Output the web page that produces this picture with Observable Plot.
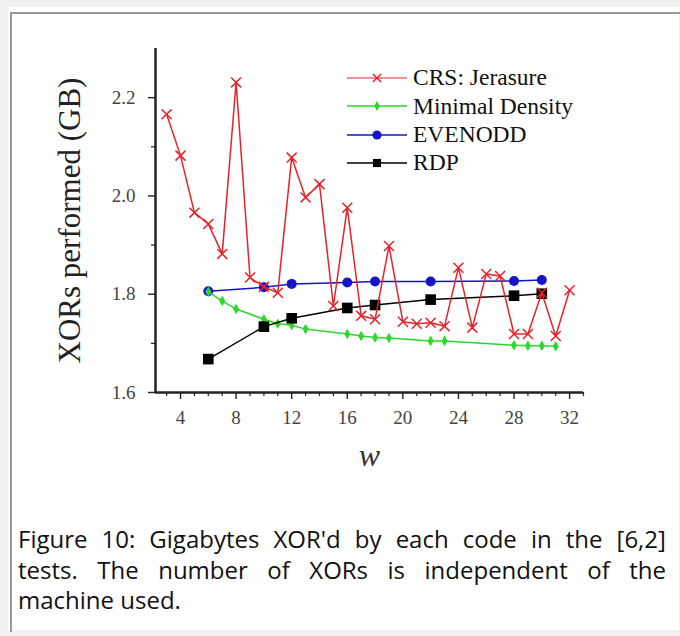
<!DOCTYPE html>
<html><head><meta charset="utf-8">
<script src="https://cdn.jsdelivr.net/npm/d3@7"></script>
<script src="https://cdn.jsdelivr.net/npm/@observablehq/plot@0.6"></script>
<style>
html,body{margin:0;padding:0;background:#f0f0f0;width:680px;height:636px;overflow:hidden;}
#frame{position:absolute;left:8px;top:7px;width:671px;height:623px;background:#fff;}
#border{position:absolute;left:10px;top:12px;width:670px;height:618px;border-left:2px solid #9a9a9a;border-top:2px solid #9a9a9a;}
#chart{position:absolute;left:0;top:0;}
#legend{position:absolute;left:347px;top:64px;font-family:"Liberation Serif",serif;font-size:23.5px;color:#111;}
#legend .row{display:flex;align-items:center;height:28.3px;}
#legend .row span{margin-left:6px;line-height:1;}
#caption{position:absolute;left:18px;width:648px;top:524px;font-family:"Open Sans",sans-serif;font-size:24px;line-height:30.5px;color:#111;}
#caption .line{display:flex;justify-content:space-between;white-space:nowrap;}
#caption .last{display:block;}
</style>
</head><body>
<div id="frame"></div>
<div id="border"></div>
<div id="chart"></div>
<div id="legend"></div>
<div id="caption"></div>
<script>
// ---- data ----
const seriesNames = ["CRS: Jerasure", "Minimal Density", "EVENODD", "RDP"];
const seriesColors = ["#e5232a", "#2bd82b", "#1414c8", "#000000"];
const seriesSymbols = ["times", "diamond", "circle", "square"];

const crsW   = [3,4,5,6,7,8,9,10,11,12,13,14,15,16,17,18,19,20,21,22,23,24,25,26,27,28,29,30,31,32];
const crsGB  = [2.166,2.082,1.966,1.943,1.882,2.231,1.834,1.815,1.803,2.078,1.997,2.024,1.776,1.976,1.756,1.749,1.898,1.744,1.740,1.742,1.735,1.854,1.732,1.841,1.837,1.719,1.719,1.803,1.715,1.808];

const mdW    = [6,7,8,10,11,12,13,16,17,18,19,22,23,28,29,30,31];
const mdGB   = [1.805,1.786,1.770,1.749,1.740,1.737,1.729,1.719,1.715,1.712,1.711,1.705,1.705,1.696,1.695,1.695,1.694];

const eoW    = [6,10,12,16,18,22,28,30];
const eoGB   = [1.806,1.814,1.821,1.824,1.826,1.826,1.827,1.829];

const rdpW   = [6,10,12,16,18,22,28,30];
const rdpGB  = [1.668,1.734,1.751,1.772,1.778,1.789,1.797,1.801];

const xDomain = [2.2, 33];
const yDomain = [1.6, 2.3];
const xTicks = [4,8,12,16,20,24,28,32];
const xMinorTicks = [3,5,6,7,9,10,11,13,14,15,17,18,19,21,22,23,25,26,27,29,30,31,33];
const yTicks = [1.6,1.8,2.0,2.2];
const yMinorTicks = [1.7,1.9,2.1];
const xLabel = "w";
const yLabel = "XORs performed (GB)";
const captionLines = [
  "Figure 10: Gigabytes XOR'd by each code in the [6,2]",
  "tests. The number of XORs is independent of the",
  "machine used."
];

// ---- build ----
const toRows = (ws, vs) => ws.map((w, i) => ({w, v: vs[i]}));
const crs = toRows(crsW, crsGB), md = toRows(mdW, mdGB), eo = toRows(eoW, eoGB), rdp = toRows(rdpW, rdpGB);
const serif = "'Liberation Serif', serif";
const axisColor = "#222";

const plot = Plot.plot({
  width: 680, height: 480,
  marginLeft: 155, marginRight: 97, marginTop: 48, marginBottom: 88,
  style: {background: "transparent", fontFamily: serif},
  x: {domain: xDomain, label: null},
  y: {domain: yDomain, label: null},
  marks: [
    Plot.axisX({ticks: xMinorTicks, tickSize: 4, text: null, stroke: axisColor, strokeWidth: 1.2, label: null}),
    Plot.axisX({ticks: xTicks, tickSize: 7, tickPadding: 11, fontSize: 19, tickFormat: d3.format("d"), stroke: axisColor, strokeWidth: 1.4, label: null}),
    Plot.axisY({ticks: yMinorTicks, tickSize: 4, text: null, stroke: axisColor, strokeWidth: 1.2, label: null}),
    Plot.axisY({ticks: yTicks, tickSize: 7, tickPadding: 13, fontSize: 19, tickFormat: d3.format(".1f"), stroke: axisColor, strokeWidth: 1.4, label: null}),
    Plot.ruleY([yDomain[0]], {stroke: axisColor, strokeWidth: 2.5}),
    Plot.ruleX([xDomain[0]], {stroke: axisColor, strokeWidth: 2.5}),
    Plot.text([yLabel], {frameAnchor: "left", textAnchor: "middle", rotate: -90, dx: -85, fontSize: 31, fill: "#222"}),
    Plot.text([xLabel], {frameAnchor: "bottom", textAnchor: "middle", dy: 73, fontSize: 32, fontStyle: "italic", fill: "#333"}),
    Plot.line(eo, {x: "w", y: "v", stroke: seriesColors[2], strokeWidth: 1.5}),
    Plot.dot(eo, {x: "w", y: "v", symbol: seriesSymbols[2], r: 5, fill: seriesColors[2]}),
    Plot.line(md, {x: "w", y: "v", stroke: seriesColors[1], strokeWidth: 1.5}),
    Plot.dot(md, {x: "w", y: "v", symbol: seriesSymbols[1], r: 3.2, fill: seriesColors[1]}),
    Plot.line(rdp, {x: "w", y: "v", stroke: seriesColors[3], strokeWidth: 1.5}),
    Plot.dot(rdp, {x: "w", y: "v", symbol: seriesSymbols[3], r: 6, fill: seriesColors[3]}),
    Plot.line(crs, {x: "w", y: "v", stroke: seriesColors[0], strokeWidth: 1.5}),
    Plot.dot(crs, {x: "w", y: "v", symbol: seriesSymbols[0], r: 4.6, stroke: seriesColors[0], strokeWidth: 1.5})
  ]
});
document.getElementById("chart").appendChild(plot);
// force serif fonts on every text; tick labels at 19px
plot.querySelectorAll("text").forEach(t => {
  t.style.setProperty("font-family", serif, "important");
  const s = t.textContent;
  if (s !== xLabel && s !== yLabel) {
    t.style.setProperty("font-size", "19px", "important");
    t.style.setProperty("fill", "#444");
  }
});

// ---- legend ----
const symbolMap = {times: d3.symbolTimes, diamond: d3.symbolDiamond, circle: d3.symbolCircle, square: d3.symbolSquare};
const legendR = [3.8, 3, 4.6, 4.6];
const legend = d3.select("#legend");
seriesNames.forEach((name, i) => {
  const row = legend.append("div").attr("class", "row");
  const svg = row.append("svg").attr("width", 60).attr("height", 28);
  svg.append("line").attr("x1", 0).attr("x2", 60).attr("y1", 14).attr("y2", 14)
    .attr("stroke", seriesColors[i]).attr("stroke-width", i === 0 ? 1.2 : 1.6);
  const sym = d3.symbol(symbolMap[seriesSymbols[i]], legendR[i] * legendR[i] * Math.PI)();
  const p = svg.append("path").attr("d", sym).attr("transform", "translate(30,14)");
  if (seriesSymbols[i] === "times") p.attr("fill", "none").attr("stroke", seriesColors[i]).attr("stroke-width", 1.5);
  else p.attr("fill", seriesColors[i]);
  row.append("span").text(name);
});

// ---- caption ----
const cap = d3.select("#caption");
captionLines.forEach((ln, i) => {
  const last = i === captionLines.length - 1;
  const div = cap.append("div").attr("class", last ? "last" : "line");
  if (last) div.text(ln);
  else ln.split(" ").forEach(wd => div.append("span").text(wd));
});
</script>
</body></html>
